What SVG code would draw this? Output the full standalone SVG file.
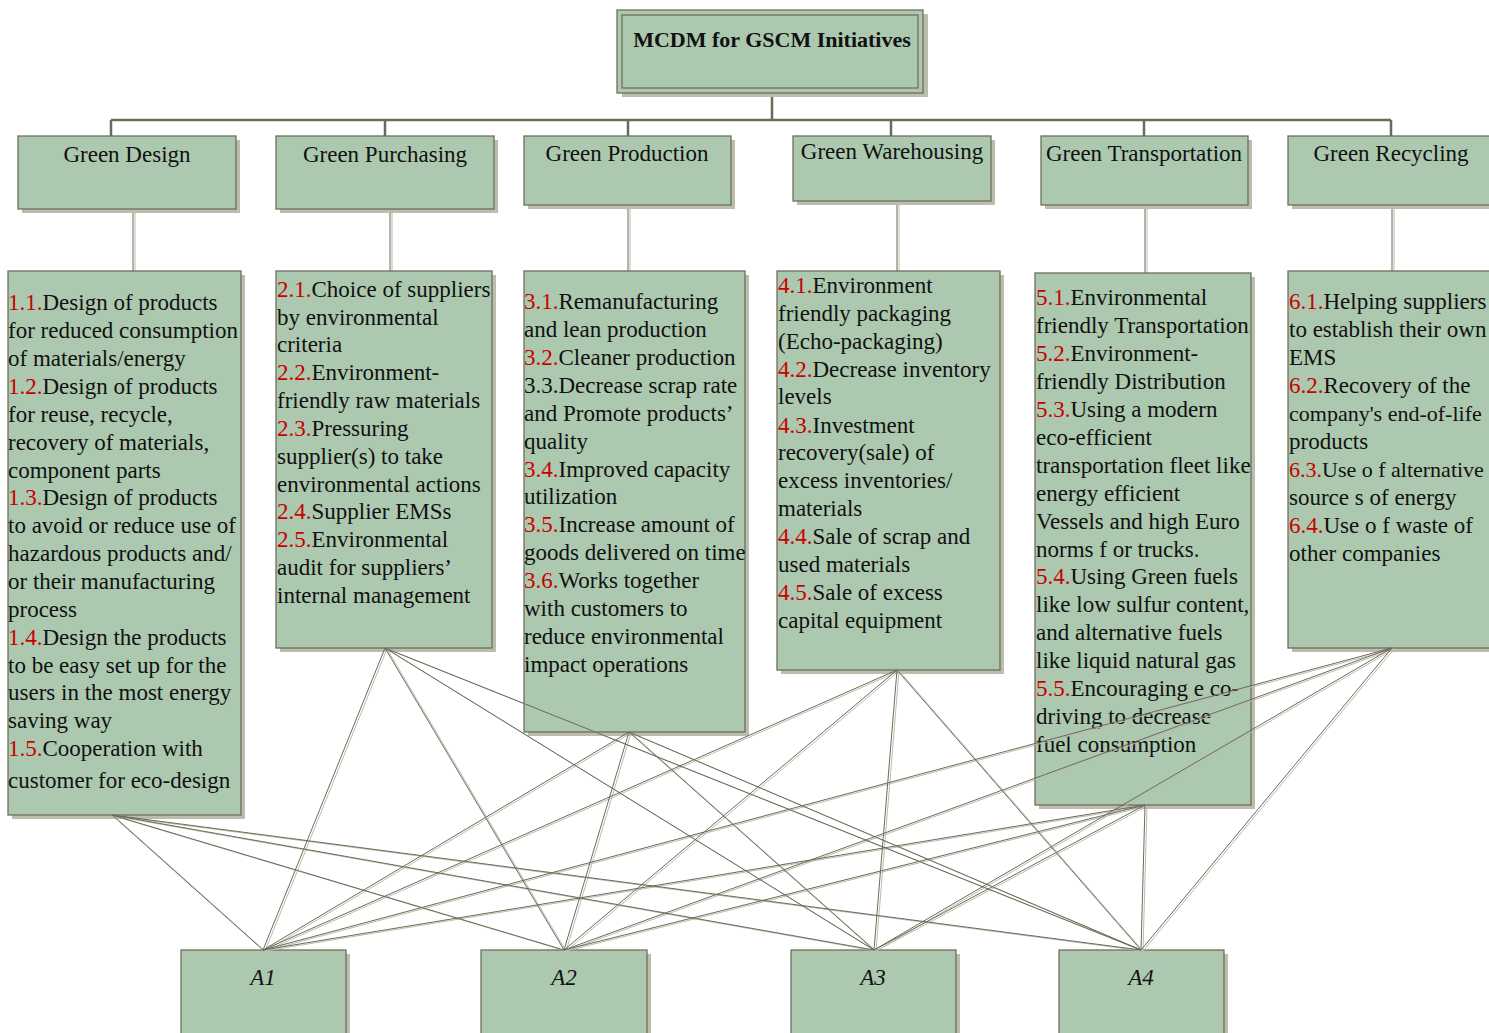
<svg xmlns="http://www.w3.org/2000/svg" width="1489" height="1033" viewBox="0 0 1489 1033">
<style>
.bx{fill:#acc8af;stroke:#6e6e5e;stroke-width:1.3}
.sh{fill:#bdbdae}
.t{font-family:"Liberation Serif","Times New Roman",serif;font-size:23px;fill:#111}
.tc{text-anchor:middle}
.tb{font-family:"Liberation Serif","Times New Roman",serif;font-size:22px;font-weight:bold;fill:#111;text-anchor:middle}
.ti{font-family:"Liberation Serif","Times New Roman",serif;font-size:23px;font-style:italic;fill:#111;text-anchor:middle}
.n{fill:#c80000}
.bus{stroke:#6b6b5a;stroke-width:2.5;fill:none}
.d{stroke:#6b6b5a;stroke-width:1;fill:none}
.l{stroke:#bcbcac;stroke-width:1;fill:none}
</style>
<rect width="1489" height="1033" fill="#ffffff"/>

<g id="hierarchy-links">
<path class="bus" d="M772,93V120M111,120H1391M111,120V136M385,120V136M628,120V136M891,120V136M1144,120V136M1391,120V136"/>
<path class="l" d="M135,209V271M392,209V271M630,205V271M899,201V271M1147,205V273M1394,205V271"/>
<path class="d" d="M133,209V271M390,209V271M628,205V271M897,201V271M1145,205V273M1392,205V271"/>
</g>

<g id="root">
<rect class="sh" x="622" y="14" width="306" height="83"/>
<rect class="bx" x="617" y="10" width="306" height="83"/>
<rect class="bx" x="622" y="15" width="296" height="73"/>
<text class="tb" x="772" y="47">MCDM for GSCM Initiatives</text>
</g>

<g id="green-design">
<rect class="sh" x="22" y="140" width="218" height="73"/>
<rect class="bx" x="18" y="136" width="218" height="73"/>
<text class="t tc" x="127" y="162">Green Design</text>
</g>
<g id="green-purchasing">
<rect class="sh" x="280" y="140" width="218" height="73"/>
<rect class="bx" x="276" y="136" width="218" height="73"/>
<text class="t tc" x="385" y="162">Green Purchasing</text>
</g>
<g id="green-production">
<rect class="sh" x="528" y="140" width="207" height="69"/>
<rect class="bx" x="524" y="136" width="207" height="69"/>
<text class="t tc" x="627" y="161">Green Production</text>
</g>
<g id="green-warehousing">
<rect class="sh" x="797" y="140" width="198" height="65"/>
<rect class="bx" x="793" y="136" width="198" height="65"/>
<text class="t tc" x="892" y="159">Green Warehousing</text>
</g>
<g id="green-transportation">
<rect class="sh" x="1045" y="140" width="207" height="69"/>
<rect class="bx" x="1041" y="136" width="207" height="69"/>
<text class="t tc" x="1144" y="161">Green Transportation</text>
</g>
<g id="green-recycling">
<rect class="sh" x="1292" y="140" width="207" height="69"/>
<rect class="bx" x="1288" y="136" width="207" height="69"/>
<text class="t tc" x="1391" y="161">Green Recycling</text>
</g>

<g id="design-criteria">
<rect class="sh" x="12" y="275" width="233" height="544"/>
<rect class="bx" x="8" y="271" width="233" height="544"/>
<text class="t">
<tspan x="8" y="310"><tspan class="n">1.1.</tspan>Design of products</tspan>
<tspan x="8" y="338">for reduced consumption</tspan>
<tspan x="8" y="366">of materials/energy</tspan>
<tspan x="8" y="394"><tspan class="n">1.2.</tspan>Design of products</tspan>
<tspan x="8" y="422">for reuse, recycle,</tspan>
<tspan x="8" y="450">recovery of materials,</tspan>
<tspan x="8" y="478">component parts</tspan>
<tspan x="8" y="505"><tspan class="n">1.3.</tspan>Design of products</tspan>
<tspan x="8" y="533">to avoid or reduce use of</tspan>
<tspan x="8" y="561">hazardous products and/</tspan>
<tspan x="8" y="589">or their manufacturing</tspan>
<tspan x="8" y="617">process</tspan>
<tspan x="8" y="645"><tspan class="n">1.4.</tspan>Design the products</tspan>
<tspan x="8" y="673">to be easy set up for the</tspan>
<tspan x="8" y="700">users in the most energy</tspan>
<tspan x="8" y="728">saving way</tspan>
<tspan x="8" y="756"><tspan class="n">1.5.</tspan>Cooperation with</tspan>
<tspan x="8" y="788">customer for eco-design</tspan>
</text>
</g>

<g id="purchasing-criteria">
<rect class="sh" x="280" y="275" width="216" height="377"/>
<rect class="bx" x="276" y="271" width="216" height="377"/>
<text class="t">
<tspan x="277" y="297"><tspan class="n">2.1.</tspan>Choice of suppliers</tspan>
<tspan x="277" y="325">by environmental</tspan>
<tspan x="277" y="352">criteria</tspan>
<tspan x="277" y="380"><tspan class="n">2.2.</tspan>Environment-</tspan>
<tspan x="277" y="408">friendly raw materials</tspan>
<tspan x="277" y="436"><tspan class="n">2.3.</tspan>Pressuring</tspan>
<tspan x="277" y="464">supplier(s) to take</tspan>
<tspan x="277" y="492">environmental actions</tspan>
<tspan x="277" y="519"><tspan class="n">2.4.</tspan>Supplier EMSs</tspan>
<tspan x="277" y="547"><tspan class="n">2.5.</tspan>Environmental</tspan>
<tspan x="277" y="575">audit for suppliers’</tspan>
<tspan x="277" y="603">internal management</tspan>
</text>
</g>

<g id="production-criteria">
<rect class="sh" x="528" y="275" width="221" height="461"/>
<rect class="bx" x="524" y="271" width="221" height="461"/>
<text class="t">
<tspan x="524" y="309"><tspan class="n">3.1.</tspan>Remanufacturing</tspan>
<tspan x="524" y="337">and lean production</tspan>
<tspan x="524" y="365"><tspan class="n">3.2.</tspan>Cleaner production</tspan>
<tspan x="524" y="393">3.3.Decrease scrap rate</tspan>
<tspan x="524" y="421">and Promote products’</tspan>
<tspan x="524" y="449">quality</tspan>
<tspan x="524" y="477"><tspan class="n">3.4.</tspan>Improved capacity</tspan>
<tspan x="524" y="504">utilization</tspan>
<tspan x="524" y="532"><tspan class="n">3.5.</tspan>Increase amount of</tspan>
<tspan x="524" y="560">goods delivered on time</tspan>
<tspan x="524" y="588"><tspan class="n">3.6.</tspan>Works together</tspan>
<tspan x="524" y="616">with customers to</tspan>
<tspan x="524" y="644">reduce environmental</tspan>
<tspan x="524" y="672">impact operations</tspan>
</text>
</g>

<g id="warehousing-criteria">
<rect class="sh" x="781" y="275" width="223" height="399"/>
<rect class="bx" x="777" y="271" width="223" height="399"/>
<text class="t">
<tspan x="778" y="293"><tspan class="n">4.1.</tspan>Environment</tspan>
<tspan x="778" y="321">friendly packaging</tspan>
<tspan x="778" y="349">(Echo-packaging)</tspan>
<tspan x="778" y="377"><tspan class="n">4.2.</tspan>Decrease inventory</tspan>
<tspan x="778" y="404">levels</tspan>
<tspan x="778" y="433"><tspan class="n">4.3.</tspan>Investment</tspan>
<tspan x="778" y="460">recovery(sale) of</tspan>
<tspan x="778" y="488">excess inventories/</tspan>
<tspan x="778" y="516">materials</tspan>
<tspan x="778" y="544"><tspan class="n">4.4.</tspan>Sale of scrap and</tspan>
<tspan x="778" y="572">used materials</tspan>
<tspan x="778" y="600"><tspan class="n">4.5.</tspan>Sale of excess</tspan>
<tspan x="778" y="628">capital equipment</tspan>
</text>
</g>

<g id="transportation-criteria">
<rect class="sh" x="1039" y="277" width="216" height="532"/>
<rect class="bx" x="1035" y="273" width="216" height="532"/>
<text class="t">
<tspan x="1036" y="305"><tspan class="n">5.1.</tspan>Environmental</tspan>
<tspan x="1036" y="333">friendly Transportation</tspan>
<tspan x="1036" y="361"><tspan class="n">5.2.</tspan>Environment-</tspan>
<tspan x="1036" y="389">friendly Distribution</tspan>
<tspan x="1036" y="417"><tspan class="n">5.3.</tspan>Using a modern</tspan>
<tspan x="1036" y="445">eco-efficient</tspan>
<tspan x="1036" y="473">transportation fleet like</tspan>
<tspan x="1036" y="501">energy efficient</tspan>
<tspan x="1036" y="529">Vessels and high Euro</tspan>
<tspan x="1036" y="557">norms f or trucks.</tspan>
<tspan x="1036" y="584"><tspan class="n">5.4.</tspan>Using Green fuels</tspan>
<tspan x="1036" y="612">like low sulfur content,</tspan>
<tspan x="1036" y="640">and alternative fuels</tspan>
<tspan x="1036" y="668">like liquid natural gas</tspan>
<tspan x="1036" y="696"><tspan class="n">5.5.</tspan>Encouraging e co-</tspan>
<tspan x="1036" y="724">driving to decrease</tspan>
<tspan x="1036" y="752">fuel consumption</tspan>
</text>
</g>

<g id="recycling-criteria">
<rect class="sh" x="1292" y="275" width="210" height="377"/>
<rect class="bx" x="1288" y="271" width="210" height="377"/>
<text class="t">
<tspan x="1289" y="309"><tspan class="n">6.1.</tspan>Helping suppliers</tspan>
<tspan x="1289" y="337">to establish their own</tspan>
<tspan x="1289" y="365">EMS</tspan>
<tspan x="1289" y="393"><tspan class="n">6.2.</tspan>Recovery of the</tspan>
<tspan x="1289" y="421" style="font-size:22px">company's end-of-life</tspan>
<tspan x="1289" y="449">products</tspan>
<tspan x="1289" y="477" style="font-size:22px"><tspan class="n">6.3.</tspan>Use o f alternative</tspan>
<tspan x="1289" y="505">source s of energy</tspan>
<tspan x="1289" y="533"><tspan class="n">6.4.</tspan>Use o f waste of</tspan>
<tspan x="1289" y="561">other companies</tspan>
</text>
</g>

<g id="a1">
<rect class="sh" x="185" y="954" width="165" height="90"/>
<rect class="bx" x="181" y="950" width="165" height="90"/>
<text class="ti" x="263" y="985">A1</text>
</g>
<g id="a2">
<rect class="sh" x="485" y="954" width="166" height="90"/>
<rect class="bx" x="481" y="950" width="166" height="90"/>
<text class="ti" x="564" y="985">A2</text>
</g>
<g id="a3">
<rect class="sh" x="795" y="954" width="165" height="90"/>
<rect class="bx" x="791" y="950" width="165" height="90"/>
<text class="ti" x="873" y="985">A3</text>
</g>
<g id="a4">
<rect class="sh" x="1063" y="954" width="165" height="90"/>
<rect class="bx" x="1059" y="950" width="165" height="90"/>
<text class="ti" x="1141" y="985">A4</text>
</g>

<g id="connectors">
<g class="l" transform="translate(2,1)">
<path d="M112,815L263,950M112,815L564,950M112,815L874,950M112,815L1141,950"/>
<path d="M385,648L263,950M385,648L564,950M385,648L874,950M385,648L1141,950"/>
<path d="M629,732L263,950M629,732L564,950M629,732L874,950M629,732L1141,950"/>
<path d="M897,670L263,950M897,670L564,950M897,670L874,950M897,670L1141,950"/>
<path d="M1145,805L263,950M1145,805L564,950M1145,805L874,950M1145,805L1141,950"/>
<path d="M1392,648L263,950M1392,648L564,950M1392,648L874,950M1392,648L1141,950"/>
</g>
<g class="d">
<path d="M112,815L263,950M112,815L564,950M112,815L874,950M112,815L1141,950"/>
<path d="M385,648L263,950M385,648L564,950M385,648L874,950M385,648L1141,950"/>
<path d="M629,732L263,950M629,732L564,950M629,732L874,950M629,732L1141,950"/>
<path d="M897,670L263,950M897,670L564,950M897,670L874,950M897,670L1141,950"/>
<path d="M1145,805L263,950M1145,805L564,950M1145,805L874,950M1145,805L1141,950"/>
<path d="M1392,648L263,950M1392,648L564,950M1392,648L874,950M1392,648L1141,950"/>
</g>
</g>
</svg>
